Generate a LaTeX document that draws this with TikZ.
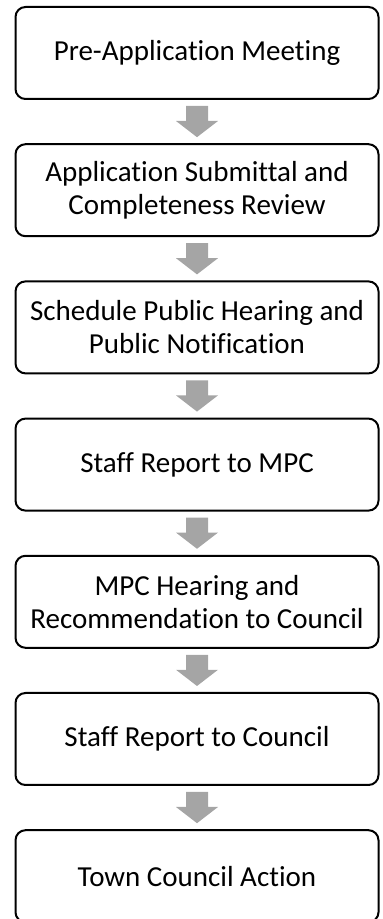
\documentclass[tikz,border=0pt]{standalone}
\usepackage{fontspec}
\setmainfont[Ligatures={NoCommon}]{Carlito}
\usetikzlibrary{calc}
\definecolor{arrowgray}{HTML}{A5A5A5}
\tikzset{
  stepbox/.style={draw=black, line width=2pt, rounded corners=10pt,
    minimum width=363pt, minimum height=92pt, align=center,
    font=\fontsize{29}{33}\selectfont, inner sep=0pt},
}
\newcommand{\flowarrow}[2]{%
  \fill[arrowgray] ($(#1.south)+(-11pt,-6pt)$) -- ++(22pt,0) -- ++(0,-15pt)
    -- ++(10pt,0) -- ($(#2.north)+(0,6pt)$) -- ($(#1.south)+(-21pt,-21pt)$)
    -- ++(10pt,0) -- cycle;}
\begin{document}
\begin{tikzpicture}[x=1pt,y=1pt]
\useasboundingbox (0,0) rectangle (383,919);
\node[stepbox] (s1) at (197,866) {Pre-Application Meeting};
\node[stepbox] (s2) at (197,728.8) {Application Submittal and\\Completeness Review};
\node[stepbox] (s3) at (197,591.6) {Schedule Public Hearing and\\Public Notification};
\node[stepbox] (s4) at (197,454.4) {Staff Report to MPC};
\node[stepbox] (s5) at (197,317.2) {MPC Hearing and\\Recommendation to Council};
\node[stepbox] (s6) at (197,180) {Staff Report to Council};
\node[stepbox] (s7) at (197,42.8) {Town Council Action};
\flowarrow{s1}{s2}
\flowarrow{s2}{s3}
\flowarrow{s3}{s4}
\flowarrow{s4}{s5}
\flowarrow{s5}{s6}
\flowarrow{s6}{s7}
\end{tikzpicture}
\end{document}
